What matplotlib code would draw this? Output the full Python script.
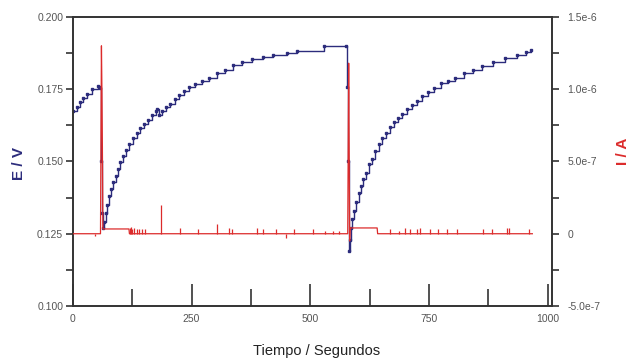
import matplotlib
matplotlib.use('Agg')
import matplotlib.pyplot as plt
from matplotlib.ticker import MultipleLocator, FixedLocator, FixedFormatter

plt.rcParams['font.family'] = ['Liberation Sans', 'DejaVu Sans']

# ------------------------------------------------------------------------------
# Potential (E / V) vs time
t_e = [0, 8, 15, 22, 30, 40, 52, 57, 59, 62, 64,
       66, 69, 72, 76, 80, 85, 90, 95, 100, 106, 112, 119, 126, 134, 142,
       150, 158, 166, 174, 178, 182, 188, 196, 205, 214, 223, 233, 245, 258,
       272, 287, 303, 320, 338, 357, 378, 400, 422, 450, 472, 530, 575,
       577, 579, 581, 583, 586, 589, 593, 597, 602, 607, 612, 618, 624, 630,
       637, 645, 652, 660, 668, 676, 685, 694, 704, 714, 725, 736, 748, 761,
       775, 790, 806, 823, 842, 862, 885, 910, 935, 955, 965]
e_v = [0.1675, 0.169, 0.1705, 0.172, 0.1735, 0.175, 0.176, 0.1755, 0.150, 0.132, 0.127,
       0.129, 0.132, 0.135, 0.138, 0.1405, 0.1428, 0.145, 0.1475, 0.1497, 0.152, 0.154,
       0.156, 0.158, 0.160, 0.1615, 0.163, 0.1645, 0.166, 0.1675, 0.168, 0.1662, 0.1675,
       0.169, 0.170, 0.1715, 0.173, 0.1745, 0.1757, 0.1768, 0.1778, 0.179, 0.1805,
       0.1815, 0.1835, 0.1845, 0.1853, 0.186, 0.1868, 0.1874, 0.1883, 0.190, 0.190,
       0.1758, 0.150, 0.119, 0.123, 0.127, 0.130, 0.133, 0.136, 0.139, 0.1415, 0.1438,
       0.146, 0.149, 0.151, 0.1535, 0.156, 0.158, 0.160, 0.162, 0.1635, 0.165, 0.1665,
       0.168, 0.1695, 0.171, 0.1725, 0.174, 0.1755, 0.177, 0.178, 0.179, 0.1805,
       0.1818, 0.183, 0.1843, 0.1857, 0.187, 0.188, 0.1885]

# Current (I / A): main trace (baseline, big spikes, plateaus)
t_i = [0, 58, 60, 61, 62, 63, 118, 119, 579, 581, 582, 583, 584, 641, 642, 968]
i_a = [0, 0, 1.30e-6, 1.0e-6, 6.0e-7, 3.3e-8, 3.3e-8, 0, 0, 1.18e-6,
       6.0e-7, -5.0e-8, 4.0e-8, 4.0e-8, 0, 0]

# Current: small spikes on the baseline (time, height)
spike_t = [46, 120, 122, 125, 128, 134, 140, 146, 152, 186, 226, 263, 303, 329, 336,
           388, 401, 428, 449, 466, 506, 532, 549, 561, 669, 686, 700, 711, 725, 732,
           753, 770, 789, 810, 865, 884, 914, 918, 960]
spike_h = [-1.5e-8, 4e-8, 5e-8, 3e-8, 4e-8, 3e-8, 3e-8, 3e-8, 3e-8, 2.0e-7, 4e-8,
           3e-8, 6.5e-8, 4e-8, 3e-8, 4e-8, 3e-8, 3e-8, -3e-8, 3e-8, 3e-8, 2e-8, 2e-8,
           2e-8, 3e-8, 2e-8, 4e-8, 3e-8, 3e-8, 4e-8, 3e-8, 3e-8, 3e-8, 3e-8, 3e-8,
           3e-8, 4e-8, 4e-8, 3e-8]

x_ticks = [0, 250, 500, 750, 1000]
i_ticks = [-5e-7, 0, 5e-7, 1e-6, 1.5e-6]
i_tick_labels = ['-5.0e-7', '0', '5.0e-7', '1.0e-6', '1.5e-6']

navy = '#2c2c7c'
red = '#dc2b2b'
grey = '#555555'

fig = plt.figure(figsize=(6.29, 3.60), dpi=100)
ax = fig.add_axes([0.116, 0.150, 0.762, 0.803])
ax2 = ax.twinx()

ax.plot(t_e, e_v, color=navy, lw=1.0, drawstyle='steps-post', zorder=2)
ax.plot(t_e, e_v, ls='none', marker='s', ms=1.5, color=navy, zorder=2)

ax2.plot(t_i, i_a, color=red, lw=0.9, zorder=3)
ax2.vlines(spike_t, 0, spike_h, color=red, lw=0.9, zorder=3)

ax.set_xlim(0, 1010)
ax.set_ylim(0.100, 0.200)
ax2.set_ylim(-5e-7, 1.5e-6)

ax.xaxis.set_major_locator(FixedLocator(x_ticks))
ax.xaxis.set_minor_locator(MultipleLocator(125))
ax.yaxis.set_major_locator(MultipleLocator(0.025))
ax.yaxis.set_minor_locator(MultipleLocator(0.0125))
ax.yaxis.set_major_formatter(plt.FormatStrFormatter('%.3f'))
ax2.yaxis.set_major_locator(FixedLocator(i_ticks))
ax2.yaxis.set_major_formatter(FixedFormatter(i_tick_labels))
ax2.yaxis.set_minor_locator(MultipleLocator(2.5e-7))

ax.tick_params(axis='x', which='major', direction='in', length=16, width=1.2,
               pad=6, labelsize=7.5, labelcolor=grey, color='#333333')
ax.tick_params(axis='x', which='minor', direction='in', length=12, width=1.2, color='#333333')
ax.tick_params(axis='y', which='both', direction='out', length=5, width=1.2,
               pad=2, labelsize=7.5, labelcolor=grey, color='#333333')
ax2.tick_params(axis='y', which='both', direction='out', length=5, width=1.2,
                pad=6, labelsize=7.5, labelcolor=grey, color='#333333')

for a in (ax, ax2):
    for s in a.spines.values():
        s.set_linewidth(1.2)
        s.set_color('#333333')

fig.text(0.031, 0.545, 'E / V', rotation=90, ha='center', va='center',
         fontsize=11, fontweight='bold', color=navy)
fig.text(0.990, 0.580, 'I / A', rotation=90, ha='center', va='center',
         fontsize=11, fontweight='bold', color=red)
fig.text(0.504, 0.025, 'Tiempo / Segundos', ha='center', va='center',
         fontsize=10.5, color='#222222')

fig.savefig('out.png', dpi=100)
